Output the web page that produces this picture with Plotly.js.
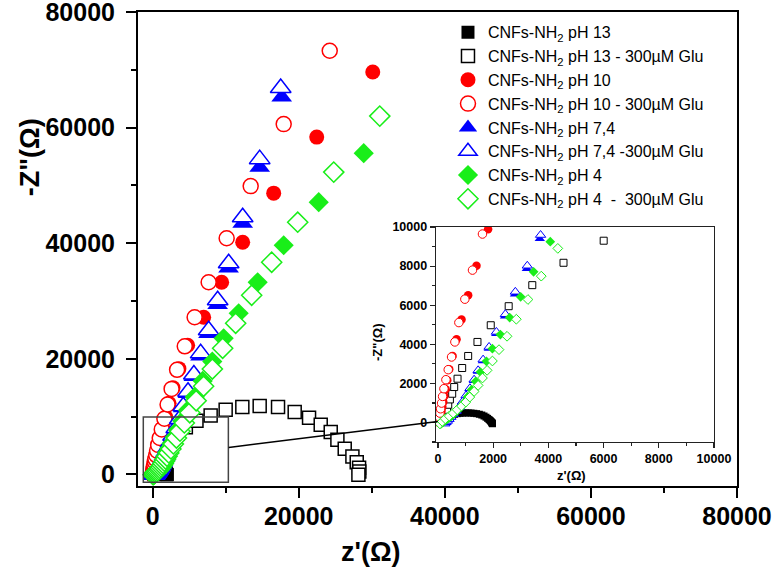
<!DOCTYPE html>
<html><head><meta charset="utf-8">
<script src="https://cdn.plot.ly/plotly-3.0.1.min.js"></script>
<style>html,body{margin:0;padding:0;background:#fff}#chart{width:773px;height:572px}</style>
</head><body><div id="chart"></div>
<script>
// ---- data (Z' in ohm, -Z'' in ohm) ----
const seriesNames = [
  'CNFs-NH<sub>2</sub> pH 13',
  'CNFs-NH<sub>2</sub> pH 13 - 300µM Glu',
  'CNFs-NH<sub>2</sub> pH 10',
  'CNFs-NH<sub>2</sub> pH 10 - 300µM Glu',
  'CNFs-NH<sub>2</sub> pH 7,4',
  'CNFs-NH<sub>2</sub> pH 7,4 -300µM Glu',
  'CNFs-NH<sub>2</sub> pH 4',
  'CNFs-NH<sub>2</sub> pH 4  -  300µM Glu'
];

const pH13_x = [120,160,210,270,340,420,510,600,700,800,900,1000,1100,1200,1300,1400,1500,1590,1670,1740,1800,1850,1890,1920,1945,1960,1970,1975];
const pH13_y = [0,60,130,200,270,330,380,420,450,470,482,488,488,482,470,450,420,380,330,270,210,150,100,50,10,-20,-45,-65];

const pH13Glu_x = [220,255,290,330,373,433,517,589,710,878,1095,1432,1913,2563,3418,4549,6004,7945,10000,12283,14658,17169,19452,21416,23014,24384,25297,26301,27352,27945,28265,28300,28173];
const pH13Glu_y = [80,230,420,650,906,1179,1470,1812,2239,2786,3402,4120,4974,5949,7026,8171,9299,10216,11203,11660,11830,11660,10790,9810,8600,7330,6000,4450,3117,2130,1160,500,-50];

const pH10_x = [38,45,55,68,85,105,130,160,195,235,280,337,409,530,675,855,1095,1397,1817,2250,2800,3600,4795,6986,9452,12329,16575,22466,30137];
const pH10_y = [30,80,140,220,320,440,600,800,1050,1350,1700,2154,2718,3402,4256,5265,6513,8017,9880,12300,15000,18300,22340,27190,33250,40173,48658,58355,69610];

const pH10Glu_x = [22,30,48,72,97,133,169,217,289,373,494,614,758,975,1252,1613,2050,2600,3350,4400,5753,7671,10137,13425,17945,24247];
const pH10Glu_y = [20,100,274,479,701,991,1333,1727,2188,2701,3350,4120,5111,6308,7795,9641,12100,14800,18100,22165,27190,33250,40866,49880,60606,73290];

const pH74_x = [245,285,335,395,465,555,655,765,885,1015,1155,1305,1450,1630,1845,2110,2430,2790,3220,3690,4190,4840,5640,6560,7650,8900,10400,12329,14658,17671];
const pH74_y = [-70,0,70,160,270,405,575,780,1035,1350,1710,2140,2610,3150,3790,4540,5430,6560,7860,9400,11550,14000,16950,20500,24400,29400,35700,43460,53160,65280];

const pH74Glu_x = [250,290,340,400,470,560,660,770,890,1020,1160,1311,1456,1637,1853,2118,2443,2804,3237,3718,4200,4850,5650,6575,7671,8904,10411,12329,14658,17534];
const pH74Glu_y = [-60,10,80,170,280,420,590,800,1060,1380,1750,2188,2667,3214,3863,4632,5538,6684,8017,9590,11800,14300,17300,20950,24935,30130,36537,44500,54545,66840];

const pH4_x = [100,140,190,250,320,400,490,590,700,820,950,1080,1220,1370,1540,1757,1974,2262,2599,2996,3466,4069,4840,5760,6860,8170,9726,11781,14384,17945,22740,28900];
const pH4_y = [-80,-30,20,80,150,230,330,450,600,780,1020,1320,1680,2100,2581,3128,3778,4496,5368,6427,7709,9248,11120,13410,16180,19520,23550,27880,33250,39650,47100,55580];

const pH4Glu_x = [72,156,265,409,553,698,855,1011,1155,1312,1456,1613,1781,1974,2213,2503,2840,3261,3743,4343,5090,5960,6980,8180,9589,11370,13562,16301,19863,24795,31095];
const pH4Glu_y = [-70,50,188,325,479,650,838,1043,1299,1590,1897,2274,2667,3145,3726,4410,5282,6291,7487,8906,10660,12750,15250,18240,21818,26150,31000,36710,43636,52300,61990];

const mainTickStep = 20000, mainMinorStep = 10000;
const insetTickStep = 2000, insetMinorStep = 1000;

// ---- styles ----
const RED = '#ff0000', BLUE = '#0000ff', GREEN = '#19ee19', BLACK = '#000000';
const xs = [pH13_x, pH13Glu_x, pH10_x, pH10Glu_x, pH74_x, pH74Glu_x, pH4_x, pH4Glu_x];
const ys = [pH13_y, pH13Glu_y, pH10_y, pH10Glu_y, pH74_y, pH74Glu_y, pH4_y, pH4Glu_y];
const styles = [
  {sym:'square', col:BLACK, open:false, s:13, si:7},
  {sym:'square', col:BLACK, open:true,  s:13, si:7},
  {sym:'circle', col:RED,   open:false, s:15, si:8.5},
  {sym:'circle', col:RED,   open:true,  s:15, si:8.5},
  {sym:'triangle-up', col:BLUE, open:false, s:18, si:9},
  {sym:'triangle-up', col:BLUE, open:true,  s:18, si:9},
  {sym:'diamond', col:GREEN, open:false, s:15.5, si:7.5},
  {sym:'diamond', col:GREEN, open:true,  s:15.5, si:7.5}
];

const traces = [];
styles.forEach((st, i) => {
  traces.push({
    type:'scatter', mode:'markers', x: xs[i], y: ys[i], name: seriesNames[i],
    xaxis:'x', yaxis:'y', cliponaxis:true,
    marker:{symbol:st.sym, size:st.s, color: st.open ? '#ffffff' : st.col,
            line:{color:st.col, width: st.open ? 1.5 : 0}}
  });
});
styles.forEach((st, i) => {
  traces.push({
    type:'scatter', mode:'markers', x: xs[i], y: ys[i], name: seriesNames[i],
    xaxis:'x2', yaxis:'y2', showlegend:false, cliponaxis:true,
    marker:{symbol:st.sym, size:st.si, color: st.open ? '#ffffff' : st.col,
            line:{color:st.col, width: st.open ? 1 : 0}}
  });
});

const FONT = 'Liberation Sans, Arial, Helvetica, sans-serif';
const mainAxis = (range, anchor) => ({
  range: range, anchor: anchor, domain:[0,1],
  tickmode:'linear', tick0:0, dtick: mainTickStep, tickformat:'d',
  ticks:'outside', ticklen:10, tickwidth:2, tickcolor:'#000',
  minor:{dtick:mainMinorStep, tick0:0, ticks:'outside', ticklen:5, tickwidth:2, tickcolor:'#000', showgrid:false},
  showline:true, linewidth:2, linecolor:'#000', mirror:true,
  showgrid:false, zeroline:false, ticklabeloverflow:'allow',
  tickfont:{family:FONT, size:25, color:'#000', weight:'bold'}
});
const insetAxis = (range, anchor, domain) => ({
  range: range, anchor: anchor, domain: domain,
  tickmode:'linear', tick0:0, dtick: insetTickStep, tickformat:'d',
  ticks:'outside', ticklen:5, tickwidth:1.2, tickcolor:'#222',
  minor:{dtick:insetMinorStep, tick0:0, ticks:'outside', ticklen:3, tickwidth:1.2, tickcolor:'#222', showgrid:false},
  showline:true, linewidth:1.3, linecolor:'#222', mirror:true,
  showgrid:false, zeroline:false, ticklabeloverflow:'allow',
  tickfont:{family:FONT, size:12.5, color:'#000', weight:'bold'}
});

const xaxis = mainAxis([-2000, 80000.5], 'y');
const yaxis = mainAxis([-2000, 80000.5], 'x');
yaxis.ticklabelstandoff = 6;
xaxis.ticklabelstandoff = -3;

const layout = {
  width:773, height:572,
  margin:{l:138, r:36, t:12, b:86, pad:0},
  paper_bgcolor:'#fff', plot_bgcolor:'#fff',
  showlegend:true,
  legend:{x:0.5175, y:0.993, xanchor:'left', yanchor:'top', bgcolor:'rgba(0,0,0,0)',
          font:{family:FONT, size:16, color:'#000'}, itemsizing:'trace', tracegroupgap:0},
  xaxis: xaxis, yaxis: yaxis,
  xaxis2: insetAxis([-70, 10000.5], 'y2', [0.4975, 0.9616]),
  yaxis2: insetAxis([-1000, 10000.5], 'x2', [0.0928, 0.5464]),
  shapes:[
    {type:'rect', xref:'x', yref:'y', x0:-1274, x1:10370, y0:-1333, y1:9922,
     line:{color:'#444', width:1.5}, fillcolor:'rgba(0,0,0,0)', layer:'above'},
    {type:'line', xref:'x', yref:'y', x0:10411, y0:4675, x1:39041, y1:9177,
     line:{color:'#000', width:1.5}, layer:'above'}
  ],
  annotations:[
    {text:'-Z"(Ω)', xref:'paper', yref:'paper', x:-0.180, y:0.694, xanchor:'center', yanchor:'middle',
     showarrow:false, textangle:-90, font:{family:FONT, size:27, color:'#000', weight:'bold'}},
    {text:"z'(Ω)", xref:'paper', yref:'paper', x:0.389, y:-0.139, xanchor:'center', yanchor:'middle',
     showarrow:false, font:{family:FONT, size:27, color:'#000', weight:'bold'}},
    {text:'-Z"(Ω)', xref:'paper', yref:'paper', x:0.4007, y:0.3038, xanchor:'center', yanchor:'middle',
     showarrow:false, textangle:-90, font:{family:FONT, size:13, color:'#000', weight:'bold'}},
    {text:"z'(Ω)", xref:'paper', yref:'paper', x:0.7229, y:0.0232, xanchor:'center', yanchor:'middle',
     showarrow:false, font:{family:FONT, size:13, color:'#000', weight:'bold'}}
  ]
};

Plotly.newPlot('chart', traces, layout, {displayModeBar:false, staticPlot:true});
</script></body></html>
